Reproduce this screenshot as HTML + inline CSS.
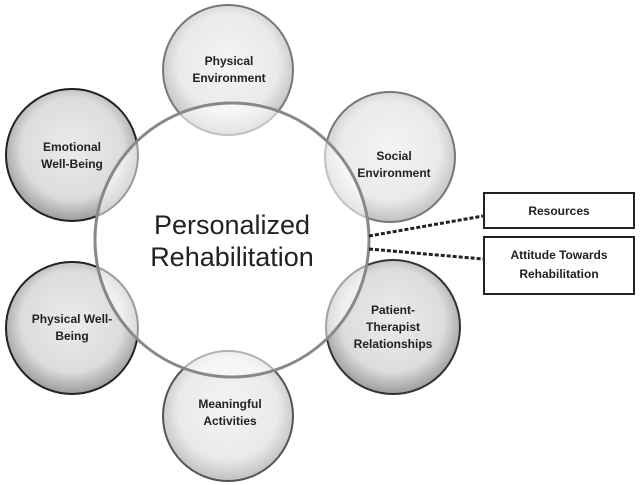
<!DOCTYPE html>
<html><head><style>
html,body{margin:0;padding:0;background:#fff;}
svg{display:block;}
text{font-family:"Liberation Sans",sans-serif;fill:#222;}
.s{font-size:12px;font-weight:bold;text-anchor:middle;}
</style></head><body>
<svg width="641" height="485" viewBox="0 0 641 485">
<defs>
<radialGradient id="g1" cx="50%" cy="45%" r="55%">
<stop offset="0%" stop-color="#e8e8e8"/><stop offset="70%" stop-color="#d6d6d6"/><stop offset="100%" stop-color="#8a8a8a"/>
</radialGradient>
<radialGradient id="g2" cx="50%" cy="45%" r="55%">
<stop offset="0%" stop-color="#f2f2f2"/><stop offset="70%" stop-color="#e6e6e6"/><stop offset="100%" stop-color="#b5b5b5"/>
</radialGradient>
</defs>
<g stroke-width="2">
<circle cx="228" cy="70" r="65" fill="url(#g2)" fill-opacity="0.85" stroke="#777"/>
<circle cx="390" cy="157" r="65" fill="url(#g2)" fill-opacity="0.85" stroke="#777"/>
<circle cx="228" cy="416" r="65" fill="url(#g2)" fill-opacity="0.85" stroke="#555"/>
<circle cx="72" cy="155" r="66" fill="url(#g1)" fill-opacity="0.85" stroke="#222"/>
<circle cx="72" cy="328" r="66" fill="url(#g1)" fill-opacity="0.85" stroke="#222"/>
<circle cx="393" cy="327" r="67" fill="url(#g1)" fill-opacity="0.85" stroke="#333"/>
<circle cx="232" cy="240" r="137" fill="#fff" fill-opacity="0.55" stroke="#888" stroke-width="3"/>
</g>
<g stroke="#222" stroke-width="3" stroke-dasharray="4,2">
<line x1="369" y1="236" x2="483" y2="216"/>
<line x1="369" y1="249" x2="483" y2="259"/>
</g>
<rect x="484" y="193" width="150" height="35" fill="#fff" stroke="#222" stroke-width="2"/>
<rect x="484" y="237" width="150" height="57" fill="#fff" stroke="#222" stroke-width="2"/>
<text class="s" x="559" y="215">Resources</text>
<text class="s" x="559" y="259">Attitude Towards</text>
<text class="s" x="559" y="278">Rehabilitation</text>
<text x="232" y="234" font-size="27" text-anchor="middle">Personalized</text>
<text x="232" y="266" font-size="27" text-anchor="middle">Rehabilitation</text>
<text class="s" x="229" y="65">Physical</text>
<text class="s" x="229" y="82">Environment</text>
<text class="s" x="394" y="160">Social</text>
<text class="s" x="394" y="177">Environment</text>
<text class="s" x="72" y="151">Emotional</text>
<text class="s" x="72" y="168">Well-Being</text>
<text class="s" x="72" y="323">Physical Well-</text>
<text class="s" x="72" y="340">Being</text>
<text class="s" x="393" y="314">Patient-</text>
<text class="s" x="393" y="331">Therapist</text>
<text class="s" x="393" y="348">Relationships</text>
<text class="s" x="230" y="408">Meaningful</text>
<text class="s" x="230" y="425">Activities</text>
</svg>
</body></html>
